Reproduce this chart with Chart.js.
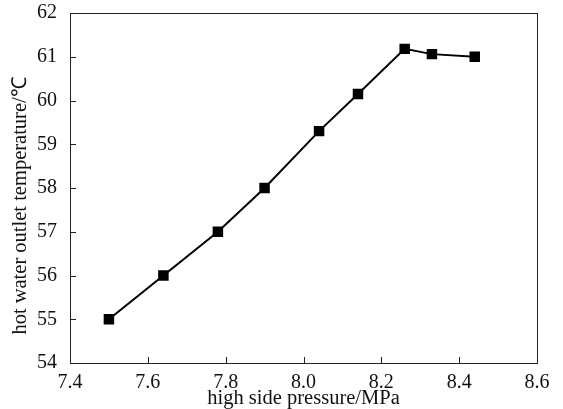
<!DOCTYPE html>
<html>
<head>
<meta charset="utf-8">
<script src="https://cdn.jsdelivr.net/npm/chart.js@4"></script>
<style>
  html, body { margin: 0; padding: 0; background: #fff; }
  #wrap { width: 563px; height: 409px; position: relative; }
</style>
</head>
<body>
<div id="wrap"><canvas id="chart"></canvas></div>
<script>
// values
const pressure = [7.50, 7.64, 7.78, 7.90, 8.04, 8.14, 8.26, 8.33, 8.44];
const outletTemp = [55, 56, 57, 58, 59.3, 60.15, 61.18, 61.06, 61.0];
const xTicks = [7.4, 7.6, 7.8, 8.0, 8.2, 8.4, 8.6];
const yTicks = [54, 55, 56, 57, 58, 59, 60, 61, 62];

const FONT = "'Liberation Serif', 'Times New Roman', serif";

// box round the plot and inward tick marks
const frame = {
  id: 'frame',
  afterDraw(chart) {
    const { ctx, chartArea: a, scales } = chart;
    ctx.save();
    ctx.strokeStyle = '#222';
    ctx.lineWidth = 1;
    ctx.strokeRect(a.left + 0.5, a.top + 0.5, a.right - a.left, a.bottom - a.top);
    ctx.beginPath();
    xTicks.forEach(v => {
      const x = Math.round(scales.x.getPixelForValue(v)) + 0.5;
      ctx.moveTo(x, a.bottom); ctx.lineTo(x, a.bottom - 6);
    });
    yTicks.forEach(v => {
      const y = Math.round(scales.y.getPixelForValue(v)) + 0.5;
      ctx.moveTo(a.left, y); ctx.lineTo(a.left + 6, y);
    });
    ctx.stroke();
    ctx.restore();
  }
};

new Chart(document.getElementById('chart'), {
  type: 'line',
  data: {
    datasets: [{
      data: pressure.map((p, i) => ({ x: p, y: outletTemp[i] })),
      borderColor: '#000',
      backgroundColor: '#000',
      borderWidth: 2,
      pointStyle: 'rect',
      pointRadius: 6,
      pointHoverRadius: 6,
      tension: 0
    }]
  },
  options: {
    responsive: true,
    maintainAspectRatio: false,
    animation: false,
    layout: { padding: { top: 13, right: 26, left: 0, bottom: 0 } },
    plugins: { legend: { display: false }, tooltip: { enabled: false } },
    scales: {
      x: {
        type: 'linear',
        min: 7.4, max: 8.6,
        afterBuildTicks: s => { s.ticks = xTicks.map(v => ({ value: v })); },
        afterFit: s => { s.height = 46; s.paddingLeft = 0; s.paddingRight = 0; },
        grid: { display: false },
        border: { display: false },
        ticks: {
          color: '#111', padding: 0,
          font: { family: FONT, size: 20 },
          callback: v => v.toFixed(1)
        },
        title: {
          display: true, text: 'high side pressure/MPa', color: '#111',
          font: { family: FONT, size: 20.5 }, padding: { top: 0, bottom: -2 }
        }
      },
      y: {
        min: 54, max: 62,
        afterBuildTicks: s => { s.ticks = yTicks.map(v => ({ value: v })); },
        afterFit: s => { s.width = 70; s.paddingTop = 0; s.paddingBottom = 0; },
        grid: { display: false },
        border: { display: false },
        ticks: {
          color: '#111', padding: 5,
          font: { family: FONT, size: 20 }
        },
        title: {
          display: true, text: 'hot water outlet temperature/\u2103       ', color: '#111',
          font: { family: FONT, size: 20.5 }, padding: { top: 8, bottom: 0 }
        }
      }
    }
  },
  plugins: [frame]
});
</script>
</body>
</html>
